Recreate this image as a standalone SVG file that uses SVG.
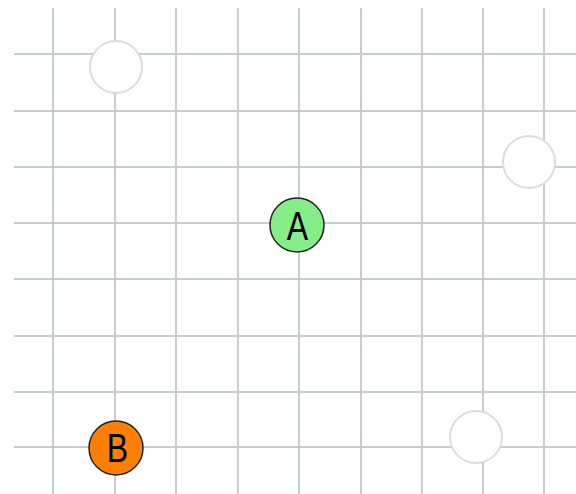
<svg xmlns="http://www.w3.org/2000/svg" width="576" height="494" viewBox="0 0 576 494">
<style>
.grid line{stroke:#c8cdd0;stroke-width:2}
.empty{fill:#fff;stroke:#dcdcdc;stroke-width:2}
.node{stroke:#222;stroke-width:1.5}
.lbl{font-family:"Liberation Sans",Arial,sans-serif;font-size:40px;fill:#000;text-anchor:middle}
</style>
<rect width="576" height="494" fill="#fff"/>
<g id="grid" class="grid">
<line x1="53" y1="8" x2="53" y2="494"/>
<line x1="115" y1="8" x2="115" y2="494"/>
<line x1="176" y1="8" x2="176" y2="494"/>
<line x1="238" y1="8" x2="238" y2="494"/>
<line x1="299" y1="8" x2="299" y2="494"/>
<line x1="361" y1="8" x2="361" y2="494"/>
<line x1="422" y1="8" x2="422" y2="494"/>
<line x1="483" y1="8" x2="483" y2="494"/>
<line x1="544" y1="8" x2="544" y2="494"/>
<line x1="14" y1="54" x2="576" y2="54"/>
<line x1="14" y1="111" x2="576" y2="111"/>
<line x1="14" y1="167" x2="576" y2="167"/>
<line x1="14" y1="223" x2="576" y2="223"/>
<line x1="14" y1="279" x2="576" y2="279"/>
<line x1="14" y1="336" x2="576" y2="336"/>
<line x1="14" y1="392" x2="576" y2="392"/>
<line x1="14" y1="447" x2="576" y2="447"/>
</g>
<g id="e1"><circle class="empty" cx="116" cy="67" r="26"/></g>
<g id="e2"><circle class="empty" cx="529" cy="162" r="26"/></g>
<g id="e3"><circle class="empty" cx="476" cy="437" r="26"/></g>
<g id="A"><circle class="node" cx="297" cy="225" r="27" fill="#86ee86"/><text class="lbl" transform="translate(297.5,240) scale(0.8,1)">A</text></g>
<g id="B"><circle class="node" cx="116" cy="448" r="27" fill="#ff8000"/><text class="lbl" transform="translate(117.5,462) scale(0.8,1)">B</text></g>
</svg>
